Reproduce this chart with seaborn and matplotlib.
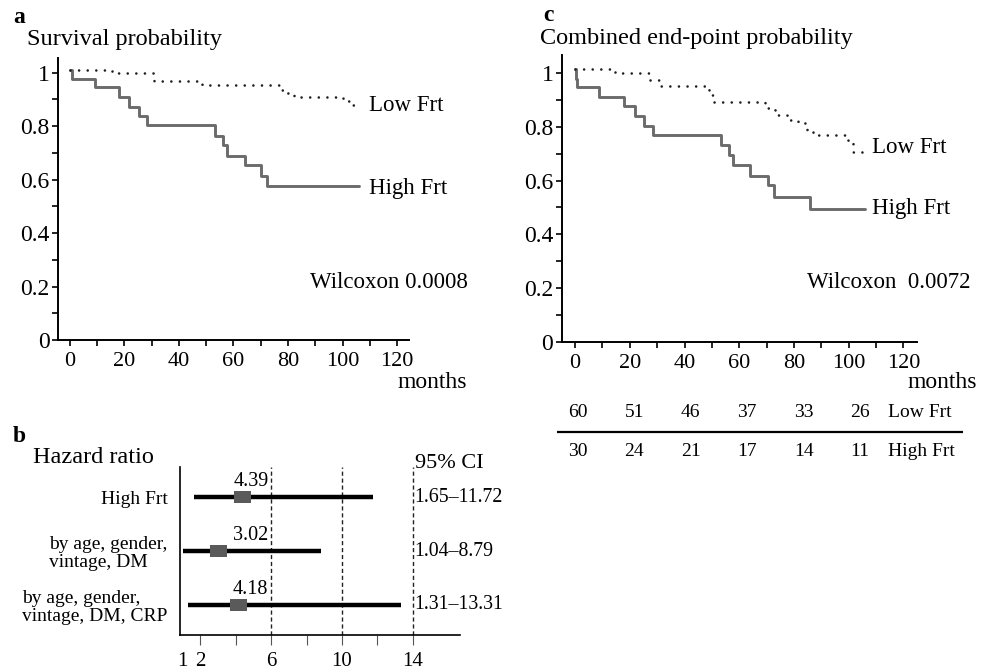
import matplotlib
matplotlib.use("Agg")
import matplotlib.pyplot as plt
from matplotlib.path import Path
from matplotlib.markers import MarkerStyle
import seaborn as sns
import pandas as pd
import numpy as np

# ---------------- data ----------------
# Panel a: overall survival (Kaplan-Meier steps, months / probability)
a_high_t = [0, 0.6, 9.2, 18.0, 21.8, 25.3, 28.1, 53.2, 56.0, 57.7, 64.2, 70.1, 72.2, 106.2]
a_high_s = [1.012, 0.978, 0.945, 0.908, 0.873, 0.838, 0.803, 0.763, 0.728, 0.688, 0.653, 0.613, 0.577, 0.577]
a_low_t = [0, 15.3, 30.8, 48.3, 77.0, 79.5, 82.3, 100.3, 103.0, 104.8]
a_low_s = [1.012, 0.998, 0.970, 0.954, 0.935, 0.923, 0.908, 0.895, 0.879, 0.879]

# Panel c: combined end-point
c_high_t = [0, 0.4, 0.85, 8.9, 18.0, 21.9, 25.3, 28.4, 53.4, 56.4, 57.9, 64.0, 70.4, 72.7, 85.9, 106.0]
c_high_s = [1.015, 0.978, 0.948, 0.913, 0.878, 0.839, 0.804, 0.769, 0.734, 0.694, 0.660, 0.619, 0.583, 0.540, 0.493, 0.493]
c_low_t = [0, 14.6, 27.4, 31.0, 48.8, 50.6, 69.4, 73.1, 77.4, 81.6, 84.7, 87.1, 99.9, 101.7, 105.4]
c_low_s = [1.015, 1.0, 0.975, 0.953, 0.919, 0.894, 0.870, 0.845, 0.826, 0.814, 0.789, 0.770, 0.739, 0.708, 0.708]

# Panel b: hazard ratios
hr_labels = ["High Frt", "by age, gender,\nvintage, DM", "by age, gender,\nvintage, DM, CRP"]
hr_values = [4.39, 3.02, 4.18]
ci_low = [1.65, 1.04, 1.31]
ci_high = [11.72, 8.79, 13.31]
hr_ticks = [1, 2, 6, 10, 14]
hr_minor_ticks = [4, 8, 12]
ref_lines = [6, 10, 14]

# Numbers at risk
risk_months = [0, 20, 40, 60, 80, 100]
risk_low = [60, 51, 46, 37, 33, 26]
risk_high = [30, 24, 21, 17, 14, 11]

wilcoxon_a = "Wilcoxon 0.0008"
wilcoxon_c = "Wilcoxon  0.0072"

# ---------------- style ----------------
sns.set_theme(style="ticks", rc={
    "axes.edgecolor": "black", "xtick.color": "black", "ytick.color": "black",
    "text.color": "black", "axes.labelcolor": "black",
})
plt.rcParams["font.family"] = ["Liberation Serif", "DejaVu Serif"]

W, H = 982, 672
fig = plt.figure(figsize=(W / 100, H / 100), dpi=100)


def fx(px):
    return px / W


def fy(py):
    return 1 - py / H


HIGH_COLOR = "#6b6b6b"
LOW_COLOR = "#1e1e1e"


def km_panel(ax, hi_t, hi_s, lo_t, lo_s, xlim, ylim):
    dfh = pd.DataFrame({"t": hi_t, "s": hi_s})
    dfl = pd.DataFrame({"t": lo_t, "s": lo_s})
    sns.lineplot(data=dfh, x="t", y="s", ax=ax, estimator=None, sort=False,
                 drawstyle="steps-post", color=HIGH_COLOR, lw=2.1)
    sns.lineplot(data=dfl, x="t", y="s", ax=ax, estimator=None, sort=False,
                 drawstyle="steps-post", color=LOW_COLOR, lw=1.9,
                 linestyle=(0, (0.01, 3.25)), dash_capstyle="round")
    ax.set_xlim(*xlim)
    ax.set_ylim(*ylim)
    ax.set_xlabel("")
    ax.set_ylabel("")
    ax.set_xticks(range(0, 121, 20))
    ax.set_xticks(range(0, 121, 10), minor=True)
    yt = [0, 0.2, 0.4, 0.6, 0.8, 1.0]
    ax.set_yticks(yt)
    ax.set_yticklabels(["0", "0.2", "0.4", "0.6", "0.8", "1"])
    ax.set_yticks(np.arange(0, 1.01, 0.1), minor=True)
    ax.tick_params(which="both", direction="out", length=4, width=1.2)
    ax.tick_params(axis="x", labelsize=16, pad=5)
    ax.tick_params(axis="y", labelsize=17, pad=2)
    sns.despine(ax=ax)
    for sp in ["left", "bottom"]:
        ax.spines[sp].set_linewidth(1.4)
    ax.grid(False)


# Panel a
ax_a = fig.add_axes([fx(58), fy(340), fx(351), (340 - 58.3) / H])
km_panel(ax_a, a_high_t, a_high_s, a_low_t, a_low_s, (-4.4, 124.4), (0, 1.054))
ax_a.text(109.7, 0.878, "Low Frt", ha="left", va="center", fontsize=16.5)
ax_a.text(109.7, 0.566, "High Frt", ha="left", va="center", fontsize=16.5)
ax_a.text(88.1, 0.215, wilcoxon_a, ha="left", va="center", fontsize=16.5)

# Panel c
ax_c = fig.add_axes([fx(561.7), fy(341.7), fx(355), (341.7 - 55) / H])
km_panel(ax_c, c_high_t, c_high_s, c_low_t, c_low_s, (-4.9, 124.9), (0, 1.068))
ax_c.text(108.6, 0.722, "Low Frt", ha="left", va="center", fontsize=16.5)
ax_c.text(108.6, 0.495, "High Frt", ha="left", va="center", fontsize=16.5)
ax_c.text(84.8, 0.222, wilcoxon_c, ha="left", va="center", fontsize=16.5)

# Panel b: forest plot
ax_b = fig.add_axes([fx(180), fy(635), fx(280), 168 / H])
rows = np.arange(len(hr_values))
for v in ref_lines:
    ax_b.axvline(v, color="#222222", lw=1.0, ls=(0, (3, 2)), zorder=1)
ax_b.hlines(rows, ci_low, ci_high, color="black", lw=3.2, zorder=2)
box = MarkerStyle(Path([(-1, -0.7), (1, -0.7), (1, 0.7), (-1, 0.7), (-1, -0.7)]))
sns.scatterplot(x=hr_values, y=rows, ax=ax_b, marker=box, s=150,
                color="#5a5a5a", edgecolor="none", zorder=3)
ax_b.set_xlim(0.87, 16.65)
ax_b.set_ylim(2.556, -0.556)
ax_b.set_yticks(rows)
ax_b.set_yticklabels(hr_labels, fontsize=14, linespacing=1.05)
for lbl in ax_b.get_yticklabels():
    lbl.set_multialignment("left")
ax_b.tick_params(axis="y", length=0, pad=9)
ax_b.set_xticks(hr_ticks)
ax_b.set_xticklabels([str(t) for t in hr_ticks])
ax_b.set_xticks(hr_minor_ticks, minor=True)
ax_b.tick_params(axis="x", which="both", direction="out", length=7, width=0.8,
                 color="#555555", labelsize=15, pad=5)
ax_b.xaxis.get_major_ticks()[0].tick1line.set_visible(False)
sns.despine(ax=ax_b)
for sp in ["left", "bottom"]:
    ax_b.spines[sp].set_linewidth(1.2)
ax_b.grid(False)
for i in rows:
    ax_b.text(4.86, rows[i] - 0.29, f"{hr_values[i]:.2f}", ha="center", va="center",
              fontsize=14.5)
    ax_b.text(14.1, rows[i], f"{ci_low[i]:.2f}\u2013{ci_high[i]:.2f}", ha="left",
              va="center", fontsize=14.3, clip_on=False)
ax_b.text(14.1, -0.63, "95% CI", ha="left", va="center", fontsize=16, clip_on=False)

# Numbers-at-risk table
ax_t = fig.add_axes([fx(557), fy(465), fx(406), 65 / H])
ax_t.axis("off")
ax_t.set_xlim(-7.45, 136.5)
ax_t.set_ylim(-0.341, 1.326)
ax_t.axhline(0.5, color="black", lw=1.6)
for m, lo, hi in zip(risk_months, risk_low, risk_high):
    ax_t.text(m, 1, str(lo), ha="center", va="center", fontsize=14)
    ax_t.text(m, 0, str(hi), ha="center", va="center", fontsize=14)
ax_t.text(110, 1, "Low Frt", ha="left", va="center", fontsize=14)
ax_t.text(110, 0, "High Frt", ha="left", va="center", fontsize=14)

# Titles and panel letters
fig.text(fx(13), fy(23), "a", fontsize=17, weight="bold", va="baseline")
fig.text(fx(13), fy(442), "b", fontsize=17, weight="bold", va="baseline")
fig.text(fx(543), fy(21), "c", fontsize=17, weight="bold", va="baseline")
fig.text(fx(27), fy(45), "Survival probability", fontsize=17.5, va="baseline")
fig.text(fx(540), fy(44), "Combined end-point probability", fontsize=17.5, va="baseline")
fig.text(fx(33), fy(463), "Hazard ratio", fontsize=17.5, va="baseline")
fig.text(fx(397), fy(388), "months", fontsize=17, va="baseline")
fig.text(fx(907), fy(388), "months", fontsize=17, va="baseline")

fig.savefig("out.png", dpi=100)
